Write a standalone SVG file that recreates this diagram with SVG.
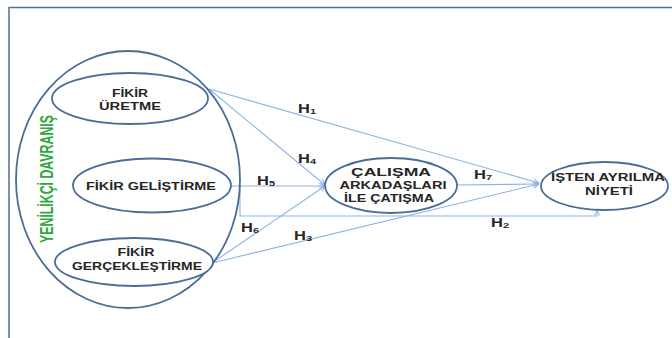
<svg xmlns="http://www.w3.org/2000/svg" width="672" height="338" viewBox="0 0 672 338">
<defs>
<style>
.frame{stroke:#4f6f96;stroke-width:1.5;fill:none}
.node{fill:#fff;stroke:#4a6d98;stroke-width:1.8}
.big{fill:none;stroke:#4a6d98;stroke-width:1.8}
.conn{stroke:#8db3e2;stroke-width:1.1;fill:none}
.t{font-family:"Liberation Sans",Arial,sans-serif;font-weight:bold;font-size:10.5px;fill:#262626;text-anchor:middle}
.h{font-family:"Liberation Sans",Arial,sans-serif;font-weight:bold;font-size:12px;fill:#262626}
.sub{font-size:8px}
.green{font-family:"Liberation Sans",Arial,sans-serif;font-weight:bold;font-size:19px;fill:#2ea83b;text-anchor:middle}
</style>
<marker id="arr" viewBox="0 0 10 10" refX="9" refY="5" markerWidth="7" markerHeight="7" orient="auto" markerUnits="userSpaceOnUse">
<path d="M1,1 L9,5 L1,9" fill="none" stroke="#8db3e2" stroke-width="1.4"/>
</marker>
</defs>
<rect width="672" height="338" fill="#fff"/>
<path class="frame" d="M9,338 V7.5 H672"/>

<g id="connectors">
<line class="conn" x1="209" y1="89" x2="539" y2="183" marker-end="url(#arr)"/>
<line class="conn" x1="209" y1="89" x2="325" y2="185" marker-end="url(#arr)"/>
<line class="conn" x1="231" y1="186" x2="325" y2="186" marker-end="url(#arr)"/>
<path class="conn" d="M240,186 V216 H597 V210" marker-end="url(#arr)"/>
<line class="conn" x1="212" y1="263" x2="325" y2="186" marker-end="url(#arr)"/>
<line class="conn" x1="212" y1="263" x2="539" y2="184" marker-end="url(#arr)"/>
<line class="conn" x1="457" y1="185" x2="539" y2="184" marker-end="url(#arr)"/>
</g>

<g id="yenilikci">
<ellipse class="big" cx="128" cy="179.5" rx="112" ry="128.5"/>
<text class="green" transform="translate(53,179) rotate(-90)" textLength="128" lengthAdjust="spacingAndGlyphs">YENİLİKÇİ DAVRANIŞ</text>
</g>

<g id="fikir-uretme">
<ellipse class="node" cx="130" cy="98.5" rx="78" ry="25.5"/>
<text class="t" x="130" y="97" textLength="36" lengthAdjust="spacingAndGlyphs">FİKİR</text>
<text class="t" x="130" y="110" textLength="62" lengthAdjust="spacingAndGlyphs">ÜRETME</text>
</g>

<g id="fikir-gelistirme">
<ellipse class="node" cx="152" cy="185.5" rx="79" ry="27"/>
<text class="t" x="151" y="190" textLength="130" lengthAdjust="spacingAndGlyphs">FİKİR GELİŞTİRME</text>
</g>

<g id="fikir-gerceklestirme">
<ellipse class="node" cx="134" cy="262" rx="79" ry="24"/>
<text class="t" x="136" y="256" textLength="37" lengthAdjust="spacingAndGlyphs">FİKİR</text>
<text class="t" x="137" y="270" textLength="130" lengthAdjust="spacingAndGlyphs">GERÇEKLEŞTİRME</text>
</g>

<g id="calisma">
<ellipse class="node" cx="391" cy="185.5" rx="66" ry="27.5"/>
<text class="t" x="391" y="176" textLength="80" lengthAdjust="spacingAndGlyphs">ÇALIŞMA</text>
<text class="t" x="393" y="189" textLength="107" lengthAdjust="spacingAndGlyphs">ARKADAŞLARI</text>
<text class="t" x="389" y="202" textLength="90" lengthAdjust="spacingAndGlyphs">İLE ÇATIŞMA</text>
</g>

<g id="isten">
<ellipse class="node" cx="604.5" cy="186" rx="63.5" ry="24"/>
<text class="t" x="608" y="181" textLength="114" lengthAdjust="spacingAndGlyphs">İŞTEN AYRILMA</text>
<text class="t" x="609" y="195" textLength="48" lengthAdjust="spacingAndGlyphs">NİYETİ</text>
</g>

<g id="labels">
<text class="h" x="298" y="113" textLength="18" lengthAdjust="spacingAndGlyphs">H<tspan class="sub" dy="1">1</tspan></text>
<text class="h" x="298" y="163" textLength="18" lengthAdjust="spacingAndGlyphs">H<tspan class="sub" dy="1">4</tspan></text>
<text class="h" x="257" y="185" textLength="18" lengthAdjust="spacingAndGlyphs">H<tspan class="sub" dy="1">5</tspan></text>
<text class="h" x="241" y="232" textLength="18" lengthAdjust="spacingAndGlyphs">H<tspan class="sub" dy="1">6</tspan></text>
<text class="h" x="294" y="240" textLength="18" lengthAdjust="spacingAndGlyphs">H<tspan class="sub" dy="1">3</tspan></text>
<text class="h" x="474" y="179" textLength="18" lengthAdjust="spacingAndGlyphs">H<tspan class="sub" dy="1">7</tspan></text>
<text class="h" x="491" y="227" textLength="18" lengthAdjust="spacingAndGlyphs">H<tspan class="sub" dy="1">2</tspan></text>
</g>
</svg>
